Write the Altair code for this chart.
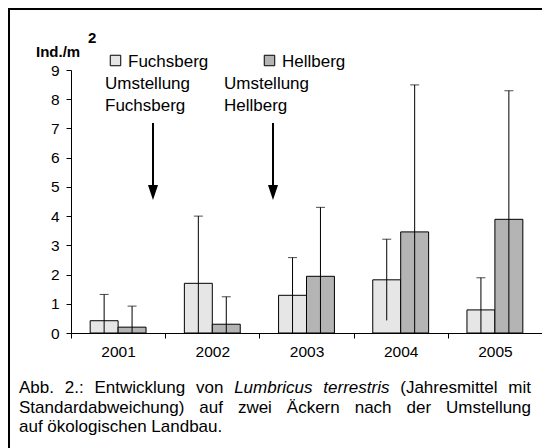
import altair as alt
import pandas as pd

# ---------------- data ----------------
years = ["2001", "2002", "2003", "2004", "2005"]
sites = ["Fuchsberg", "Hellberg"]
fuchsberg_mean = [0.42, 1.70, 1.29, 1.82, 0.79]
fuchsberg_sd = [0.90, 2.30, 1.29, 1.39, 1.10]
hellberg_mean = [0.20, 0.30, 1.94, 3.46, 3.89]
hellberg_sd = [0.72, 0.94, 2.36, 5.03, 4.40]
y_ticks = [0, 1, 2, 3, 4, 5, 6, 7, 8, 9]
site_colors = ["#e6e6e6", "#b4b4b4"]

y_label = "Ind./m"
y_label_sup = "2"
annotation_fuchsberg = ["Umstellung", "Fuchsberg"]
annotation_hellberg = ["Umstellung", "Hellberg"]
caption_line1 = [("Abb.", False), ("2.:", False), ("Entwicklung", False), ("von", False),
                 ("Lumbricus", True), ("terrestris", True), ("(Jahresmittel", False), ("mit", False)]
caption_line2 = [("Standardabweichung)", False), ("auf", False), ("zwei", False), ("Äckern", False),
                 ("nach", False), ("der", False), ("Umstellung", False)]
caption_line3 = "auf ökologischen Landbau."

rows = []
for i, yr in enumerate(years):
    rows.append({"year": yr, "site": "Fuchsberg", "mean": fuchsberg_mean[i], "sd": fuchsberg_sd[i]})
    rows.append({"year": yr, "site": "Hellberg", "mean": hellberg_mean[i], "sd": hellberg_sd[i]})
df = pd.DataFrame(rows)
df["lo"] = (df["mean"] - df["sd"]).clip(lower=0)
df["hi"] = df["mean"] + df["sd"]

# ---------------- layout ----------------
FONT = "Liberation Sans"
W, H = 471, 263
PX0, PY0 = 71, 70          # page position of the plot origin
TXT_FS = 17


def rx(px):
    return px - PX0


def ry(py):
    return py - PY0


one = pd.DataFrame({"k": [0]})


def text(s, px, py, size=TXT_FS, bold=False, italic=False, align="left", baseline="alphabetic"):
    return alt.Chart(one).mark_text(
        text=s, font=FONT, fontSize=size, fontWeight="bold" if bold else "normal",
        fontStyle="italic" if italic else "normal", align=align, baseline=baseline, color="black"
    ).encode(x=alt.value(rx(px)), y=alt.value(ry(py)))


# Arial advance widths (units per 1000) for justification of the caption
AW = {' ': 278, 'A': 667, 'b': 556, '.': 278, '2': 556, ':': 278, 'E': 667, 'n': 556, 't': 278,
      'w': 722, 'i': 222, 'c': 500, 'k': 500, 'l': 222, 'u': 556, 'g': 556, 'v': 500, 'o': 556,
      'L': 556, 'm': 833, 'r': 333, 's': 500, 'e': 556, '(': 333, ')': 333, 'J': 500, 'a': 556,
      'h': 556, 'S': 667, 'd': 556, 'f': 278, 'z': 500, 'Ä': 667, 'U': 722, 'ö': 556}


def tw(s, size):
    return sum(AW.get(ch, 556) for ch in s) * size / 1000.0


CAP_FS = 17
CAP_LEFT, CAP_RIGHT = 19, 531


def justified(words, py):
    total = sum(tw(w, CAP_FS) for w, _ in words)
    gap = (CAP_RIGHT - CAP_LEFT - total) / (len(words) - 1)
    layers = []
    x = CAP_LEFT
    for w, it in words:
        layers.append(text(w, x, py, size=CAP_FS, italic=it))
        x += tw(w, CAP_FS) + gap
    return layers


# ---------------- chart ----------------
axis_common = dict(domainColor="black", tickColor="black", labelColor="black", labelFont=FONT,
                   labelFontSize=15.5, grid=False, title=None, domainWidth=1, tickWidth=1,
                   labelOverlap=False)

x_enc = alt.X("year:N", sort=years, scale=alt.Scale(paddingInner=0, paddingOuter=0),
              axis=alt.Axis(labelAngle=0, tickBand="extent", tickSize=5, labelPadding=6, **axis_common))
xoff = alt.XOffset("site:N", sort=sites,
                   scale=alt.Scale(domain=sites, paddingOuter=0.686, paddingInner=0))
y_scale = alt.Scale(domain=[0, 9], nice=False)
y_axis = alt.Axis(values=y_ticks, tickCount=10, tickSize=5, labelPadding=7, **axis_common)

base = alt.Chart(df)
bars = base.mark_bar(stroke="black", strokeWidth=1).encode(
    x=x_enc, xOffset=xoff, y=alt.Y("mean:Q", scale=y_scale, axis=y_axis),
    fill=alt.Fill("site:N", scale=alt.Scale(domain=sites, range=site_colors), legend=None),
)
err = base.mark_rule(color="black", strokeWidth=1).encode(
    x=x_enc, xOffset=xoff, y=alt.Y("lo:Q", scale=y_scale, axis=y_axis), y2="hi:Q")
cap = base.mark_tick(color="black", thickness=1, size=9).encode(
    x=x_enc, xOffset=xoff, y=alt.Y("hi:Q", scale=y_scale, axis=y_axis))

layers = [bars, err, cap]

# frame
layers.append(alt.Chart(one).mark_rule(color="black", strokeWidth=2).encode(
    x=alt.value(rx(9)), y=alt.value(ry(8)), y2=alt.value(ry(448))))
layers.append(alt.Chart(one).mark_rule(color="black", strokeWidth=2).encode(
    x=alt.value(rx(8)), x2=alt.value(rx(542)), y=alt.value(ry(9))))

# y label
layers.append(text(y_label, 36, 57, size=15, bold=True))
layers.append(text(y_label_sup, 88, 43, size=15, bold=True))

# legend
for i, s in enumerate(sites):
    sx = [115.5, 269.5][i]
    tx = [128, 282][i]
    layers.append(alt.Chart(one).mark_square(size=110, filled=True, fill=site_colors[i],
                                             stroke="black", strokeWidth=1, opacity=1).encode(
        x=alt.value(rx(sx)), y=alt.value(ry(60.5))))
    layers.append(text(s, tx, 66.5))

# annotations + arrows
for lines, lx, ax in [(annotation_fuchsberg, 105, 153), (annotation_hellberg, 224, 273)]:
    layers.append(text(lines[0], lx, 88.5))
    layers.append(text(lines[1], lx, 110.5))
    layers.append(alt.Chart(one).mark_rule(color="black", strokeWidth=2).encode(
        x=alt.value(rx(ax)), y=alt.value(ry(123)), y2=alt.value(ry(190))))
    layers.append(alt.Chart(one).mark_point(shape="M-0.67,-1L0.67,-1L0,1Z", filled=True, size=225,
                                            color="black", opacity=1).encode(
        x=alt.value(rx(ax)), y=alt.value(ry(192.5))))

# caption
layers += justified(caption_line1, 393)
layers += justified(caption_line2, 412.5)
layers.append(text(caption_line3, CAP_LEFT, 432, size=CAP_FS))

chart = alt.layer(*layers).properties(
    width=W, height=H,
    padding={"left": 63, "top": 62, "right": 0, "bottom": 115},
    autosize=alt.AutoSizeParams(type="none"),
    background="white",
).configure_view(stroke=None)

chart.save("out.html", embed_options={"renderer": "svg", "actions": False})
